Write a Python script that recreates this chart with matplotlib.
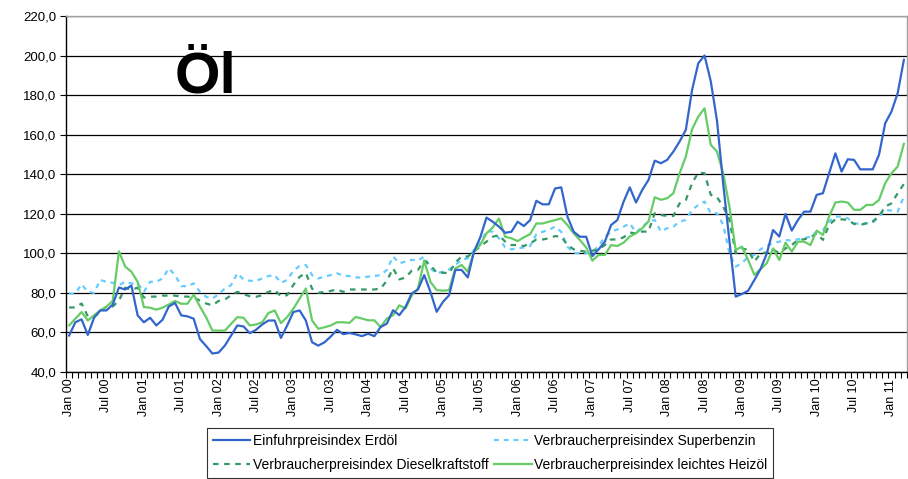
"""
Oil price indices 2000 - 2011 (Einfuhrpreis Erdoel vs. Verbraucherpreise)
Line chart with four monthly series, category axis like the Excel original.
"""

import matplotlib
matplotlib.use("Agg")
import matplotlib.pyplot as plt
import numpy as np

# ---------------------------------------------------------------------------
# Data: monthly index values, Jan 2000 .. Mar 2011
# ---------------------------------------------------------------------------
months = ['Jan', 'Feb', 'Mrz', 'Apr', 'Mai', 'Jun',
          'Jul', 'Aug', 'Sep', 'Okt', 'Nov', 'Dez']
years = list(range(2000, 2012))
n_points = 135

erdoel = [
    58.3, 65.0, 66.5, 58.6, 67.3, 71.0, 71.0, 74.0, 82.6, 81.6, 83.6, 68.5,   # 2000
    65.0, 67.3, 63.4, 66.3, 73.0, 74.8, 68.5, 68.0, 66.8, 56.5, 53.0, 49.2,   # 2001
    49.7, 53.2, 58.3, 63.4, 62.9, 59.5, 61.2, 63.9, 65.9, 65.9, 57.1, 63.4,   # 2002
    70.2, 71.0, 65.9, 54.9, 53.2, 54.9, 57.8, 61.2, 59.0, 59.6, 58.9, 58.0,   # 2003
    59.2, 58.0, 62.6, 64.3, 71.1, 68.6, 72.8, 79.6, 81.6, 88.9, 80.4, 70.3,   # 2004
    75.3, 78.7, 91.5, 91.5, 87.7, 100.8, 108.0, 118.0, 115.9, 113.4, 110.3, 110.8,  # 2005
    115.9, 113.7, 116.7, 126.5, 124.7, 124.7, 132.7, 133.3, 118.4, 110.8, 108.3, 108.3,  # 2006
    98.5, 101.9, 105.8, 114.2, 116.7, 126.0, 133.3, 125.6, 132.0, 137.0, 146.8, 145.5,  # 2007
    147.2, 151.4, 156.5, 162.4, 182.6, 196.1, 200.0, 187.0, 167.0, 135.0, 106.0, 78.0,  # 2008
    79.3, 81.0, 86.4, 92.0, 99.9, 111.7, 108.4, 119.8, 111.4, 116.8, 121.0, 121.0,  # 2009
    129.5, 130.3, 140.4, 150.5, 141.3, 147.5, 147.2, 142.4, 142.4, 142.4, 149.7, 165.7,  # 2010
    171.6, 180.9, 197.8,                                                      # 2011
]

superbenzin = [
    79.5, 79.5, 84.3, 80.4, 79.9, 86.4, 85.5, 85.0, 83.8, 85.5, 84.7, 84.7,
    80.4, 85.5, 85.5, 87.2, 92.3, 88.9, 83.3, 83.3, 84.7, 80.4, 77.9, 77.0,
    79.2, 82.1, 83.8, 89.8, 86.7, 86.0, 86.0, 87.2, 88.4, 88.9, 85.0, 86.4,
    91.1, 93.5, 94.0, 88.9, 87.2, 88.1, 88.9, 89.8, 88.6, 88.4, 87.7, 87.7,
    88.1, 88.4, 88.9, 91.5, 98.3, 94.9, 95.7, 96.6, 96.2, 98.3, 92.3, 89.8,
    90.6, 91.8, 94.0, 96.6, 97.4, 101.7, 105.0, 111.3, 110.8, 107.5, 102.9, 101.9,
    102.4, 102.9, 103.6, 109.6, 110.8, 111.7, 113.4, 110.8, 103.2, 100.2, 99.9, 99.9,
    100.7, 103.6, 108.3, 110.8, 112.0, 113.4, 115.1, 110.4, 113.4, 116.0, 116.8, 110.9,
    112.6, 113.4, 116.0, 116.8, 121.9, 124.4, 126.1, 120.2, 120.2, 114.3, 99.9, 93.2,
    94.9, 98.2, 99.1, 102.0, 103.6, 105.0, 105.8, 106.7, 106.3, 107.0, 107.5, 108.4,
    110.9, 111.7, 116.0, 118.5, 118.5, 117.6, 115.1, 114.8, 115.1, 115.4, 118.5, 121.9,
    121.5, 121.0, 128.6,
]

diesel = [
    72.5, 72.5, 74.5, 68.0, 68.0, 70.0, 73.0, 73.0, 76.0, 82.5, 81.5, 82.5,
    77.5, 78.0, 78.0, 78.5, 78.5, 78.5, 78.0, 78.0, 77.5, 76.0, 74.5, 73.6,
    75.8, 76.5, 78.7, 80.4, 79.2, 78.2, 77.9, 78.7, 80.4, 81.3, 78.2, 78.7,
    84.0, 88.0, 90.0, 82.0, 79.9, 80.4, 80.9, 81.6, 80.4, 81.6, 81.6, 81.6,
    81.6, 81.6, 82.1, 86.0, 92.3, 86.7, 87.7, 91.1, 91.5, 96.2, 94.0, 90.1,
    90.1, 89.8, 95.2, 98.3, 98.3, 100.8, 103.4, 105.8, 108.3, 109.1, 105.8, 104.1,
    104.1, 103.6, 104.9, 106.9, 106.9, 107.5, 108.6, 108.3, 104.1, 101.9, 101.2, 100.7,
    101.2, 101.9, 104.1, 106.9, 106.9, 108.0, 110.4, 110.0, 110.9, 110.9, 120.2, 119.3,
    118.8, 118.8, 125.2, 126.9, 135.4, 140.8, 140.4, 129.5, 128.3, 123.5, 116.8, 99.9,
    102.4, 101.6, 95.7, 99.9, 100.3, 101.9, 99.9, 102.4, 104.1, 106.7, 107.0, 108.0,
    110.0, 106.7, 114.3, 117.1, 117.1, 116.8, 114.8, 114.3, 115.1, 116.0, 118.8, 123.5,
    125.2, 130.3, 135.0,
]

heizoel = [
    63.4, 66.8, 70.2, 65.9, 68.5, 71.0, 73.0, 75.8, 100.9, 93.2, 90.6, 85.5,
    72.7, 72.4, 71.4, 72.4, 74.0, 75.8, 74.4, 74.4, 79.0, 73.0, 67.5, 60.8,
    60.8, 60.8, 64.2, 67.6, 67.3, 63.4, 63.9, 65.0, 69.7, 71.0, 64.6, 67.6,
    71.9, 77.0, 82.1, 65.9, 61.7, 62.5, 63.4, 65.0, 65.0, 64.7, 67.7, 66.9,
    66.0, 66.0, 62.6, 66.9, 68.6, 73.6, 72.0, 78.7, 82.1, 96.2, 85.5, 81.3,
    81.0, 81.3, 92.3, 94.0, 90.6, 100.8, 104.2, 110.0, 113.0, 117.5, 108.3, 107.5,
    106.1, 108.0, 109.6, 115.0, 115.0, 115.9, 116.7, 117.6, 114.2, 110.0, 106.6, 102.9,
    96.2, 99.1, 99.1, 104.1, 103.6, 105.3, 108.4, 110.0, 112.6, 116.0, 128.3, 127.0,
    127.8, 130.3, 140.4, 148.9, 162.7, 169.1, 173.3, 154.8, 151.4, 140.4, 123.5, 101.6,
    103.3, 96.5, 89.0, 92.0, 94.9, 102.4, 96.5, 105.3, 100.8, 105.8, 105.8, 104.1,
    111.4, 109.2, 118.5, 125.6, 126.1, 125.6, 121.9, 121.9, 124.4, 124.4, 126.9, 135.4,
    140.4, 143.8, 155.3,
]

series_names = ['Einfuhrpreisindex Erdöl',
                'Verbraucherpreisindex Dieselkraftstoff',
                'Verbraucherpreisindex Superbenzin',
                'Verbraucherpreisindex leichtes Heizöl']

# category labels "Jan 00", "Jul 00", ...
category_labels = [f"{months[i % 12]} {years[i // 12] % 100:02d}" for i in range(n_points)]

# ---------------------------------------------------------------------------
# Style
# ---------------------------------------------------------------------------
plt.rcParams['font.family'] = ['Liberation Sans', 'DejaVu Sans']
plt.rcParams['font.size'] = 9.5

fig = plt.figure(figsize=(9.08, 4.79), dpi=100)
ax = fig.add_axes([66 / 908, 1 - 371.7 / 479, 841 / 908, 355.7 / 479])

x = np.arange(n_points)

l_erdoel, = ax.plot(x, erdoel, color='#3366CC', lw=1.6, solid_joinstyle='round', zorder=5)
l_super, = ax.plot(x, superbenzin, color='#66CCFF', lw=1.6, linestyle=(0, (2.2, 2.2)), zorder=3)
l_diesel, = ax.plot(x, diesel, color='#339966', lw=1.6, linestyle=(0, (2.5, 2.5)), zorder=4)
l_heiz, = ax.plot(x, heizoel, color='#66CC66', lw=1.6, solid_joinstyle='round', zorder=4)

# axes
ax.set_xlim(-0.5, n_points - 0.5)
ax.set_ylim(40, 220)
ax.set_yticks(np.arange(40, 221, 20))
ax.set_yticklabels([f"{v:.1f}".replace('.', ',') for v in np.arange(40, 221, 20)], fontsize=9.5)
ax.grid(axis='y', color='#000000', lw=0.9, zorder=0)
ax.set_axisbelow(True)

major_pos = x[::6]
ax.set_xticks(major_pos)
ax.set_xticklabels([category_labels[i] for i in major_pos], rotation=90, fontsize=9)
ax.set_xticks(np.arange(-0.5, n_points, 1), minor=True)
ax.tick_params(axis='x', which='major', length=0, pad=5)
ax.tick_params(axis='x', which='minor', length=4, width=0.8, direction='out', color='black')
ax.tick_params(axis='y', length=4, width=0.8, direction='out', pad=3)

for side in ['top', 'right']:
    ax.spines[side].set_color('#A0A0A0')
    ax.spines[side].set_linewidth(1.0)
for side in ['left', 'bottom']:
    ax.spines[side].set_color('black')
    ax.spines[side].set_linewidth(1.0)

# big title inside the plot area
ax.text(0.129, 0.785, 'Öl', transform=ax.transAxes, fontsize=42,
        fontweight='bold', ha='left', va='baseline', color='black')

# legend below the chart
leg = fig.legend([l_erdoel, l_diesel, l_super, l_heiz], series_names,
                 ncol=2, loc='upper left', bbox_to_anchor=(207 / 908, 1 - 428 / 479),
                 fontsize=10, frameon=True, fancybox=False, handlelength=2.7,
                 handletextpad=0.2, columnspacing=0.4, borderpad=0.4,
                 labelspacing=0.75, borderaxespad=0)
leg.get_frame().set_edgecolor('black')
leg.get_frame().set_linewidth(0.8)

fig.savefig('out.png', dpi=100, facecolor='white')
print("saved out.png")
